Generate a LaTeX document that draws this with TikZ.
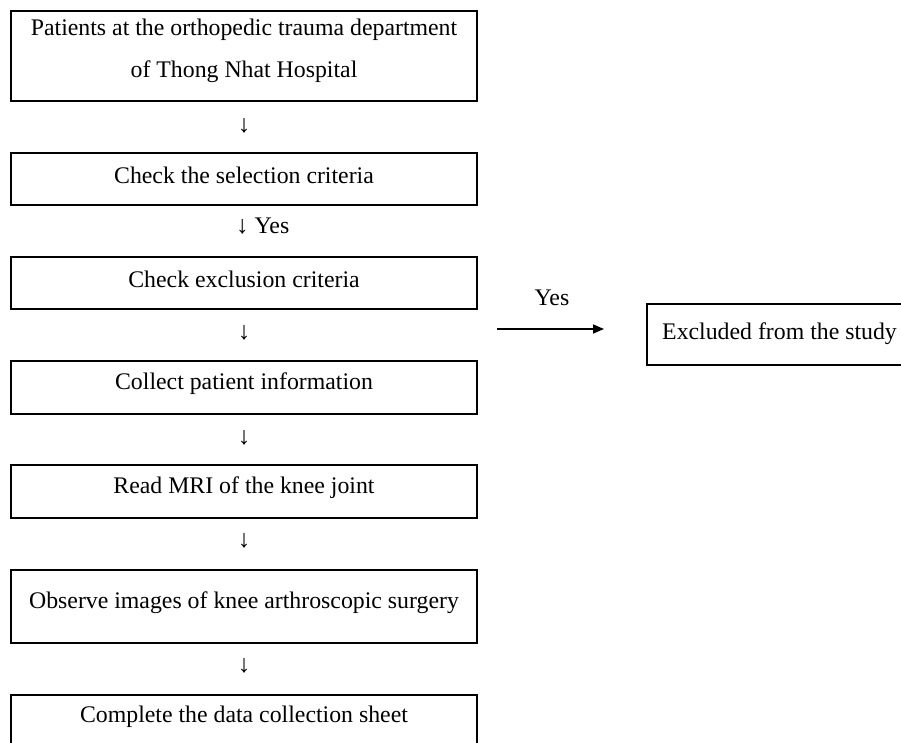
\documentclass[tikz,border=0pt]{standalone}
\usepackage{fontspec}
\setmainfont{Liberation Serif}
\usetikzlibrary{arrows.meta}
\begin{document}
\begin{tikzpicture}[x=1pt,y=1pt,
  box/.style={draw=black,line width=1.6pt,minimum width=466pt,inner sep=0pt,anchor=north west},
  txt/.style={font=\fontsize{23.8}{27}\selectfont,inner sep=0pt,anchor=center},
  dn/.style={font=\fontsize{25}{28}\selectfont,inner sep=0pt,anchor=center}]
\useasboundingbox (0,0) rectangle (901,-743);
% boxes
\node[box,minimum height=90pt] (b1) at (10,-10) {};
\node[box,minimum height=52pt] (b2) at (10,-152) {};
\node[box,minimum height=52pt] (b3) at (10,-256) {};
\node[box,minimum height=53pt] (b4) at (10,-360) {};
\node[box,minimum height=53pt] (b5) at (10,-464) {};
\node[box,minimum height=73pt] (b6) at (10,-569) {};
\node[box,minimum height=70pt] (b7) at (10,-694) {};
\node[draw=black,line width=1.6pt,minimum width=270pt,minimum height=61pt,inner sep=0pt,anchor=north west] (ex) at (646,-303) {};
% texts
\node[txt] (t1a) at (244,-30) {Patients at the orthopedic trauma department};
\node[txt] (t1b) at (244,-72) {of Thong Nhat Hospital};
\node[txt] (t2) at (244,-175) {Check the selection criteria};
\node[txt] (t3) at (244,-279) {Check exclusion criteria};
\node[txt] (t4) at (244,-384) {Collect patient information};
\node[txt] (t5) at (244,-488) {Read MRI of the knee joint};
\node[txt] (t6) at (244,-603) {Observe images of knee arthroscopic surgery};
\node[txt] (t7) at (244,-717) {Complete the data collection sheet};
\node[txt,anchor=west] (tex) at (662,-334) {Excluded from the study};
% down glyph arrows
\node[dn] (a1) at (244,-126) {↓};
\node[txt,anchor=west] (a2) at (236,-226) {\fontsize{25}{28}\selectfont↓\fontsize{23.8}{27}\selectfont{} Yes};
\node[dn] (a3) at (244,-333) {↓};
\node[dn] (a4) at (244,-438) {↓};
\node[dn] (a5) at (244,-541) {↓};
\node[dn] (a6) at (244,-666) {↓};
% right arrow
\coordinate (ys) at (497,-329);
\coordinate (ye) at (604,-329);
\draw[line width=1.6pt,-{Triangle[length=11pt,width=9pt]}] (ys) -- (ye);
\node[txt] (yl) at (552,-298) {Yes};
\end{tikzpicture}
\end{document}
